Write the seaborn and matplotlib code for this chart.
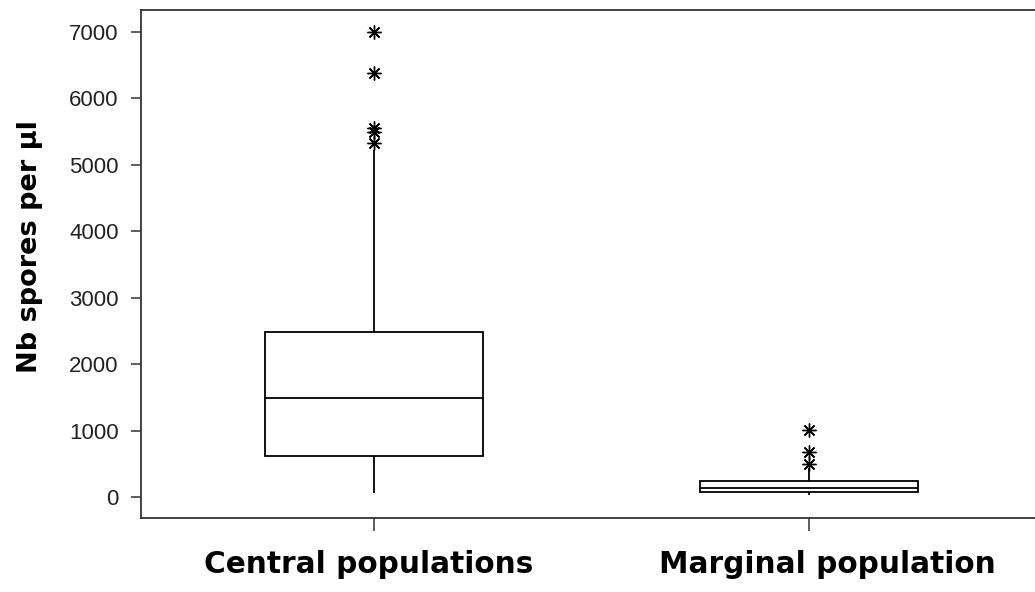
import numpy as np
import pandas as pd
import seaborn as sns
import matplotlib
matplotlib.use("Agg")
import matplotlib.pyplot as plt
from matplotlib.transforms import ScaledTranslation

# ---- data ----
categories = ["Central populations", "Marginal population"]

central_values = [60, 150, 260, 380, 470, 560, 617, 760, 900, 1050, 1200, 1350,
                  1490, 1650, 1800, 1980, 2150, 2320, 2484, 5220,
                  5330, 5495, 5555, 6383, 7000]
marginal_values = [30, 45, 55, 62, 70, 90, 105, 120, 135, 160, 185, 210, 235,
                   430, 490, 680, 1010]

yticks = [0, 1000, 2000, 3000, 4000, 5000, 6000, 7000]
ylabel = "Nb spores per µl"

df = pd.DataFrame({
    "group": [categories[0]] * len(central_values) + [categories[1]] * len(marginal_values),
    "value": central_values + marginal_values,
})

sns.set_theme(style="white")
plt.rcParams["font.family"] = ["DejaVu Sans"]

fig = plt.figure(figsize=(10.35, 5.92), dpi=100)
ax = fig.add_axes([141 / 1035, 1 - 518 / 592, 1 - 141 / 1035, (518 - 10) / 592])

lw = 1.3
sns.boxplot(data=df, x="group", y="value", order=categories, ax=ax,
            width=0.5, color="white", linecolor="black", linewidth=lw,
            whis=1.5, showcaps=False,
            flierprops=dict(marker=(8, 2, 0), markersize=10, markeredgecolor="black",
                            markerfacecolor="black", markeredgewidth=1.0))

ax.set_xlim(-0.5356, 1.5195)
ax.set_ylim(-316, 7331)
ax.set_yticks(yticks)
ax.set_yticklabels([str(v) for v in yticks], fontfamily="Liberation Sans",
                   fontsize=16, color="#222222")
ax.set_xticks([0, 1])
ax.set_xticklabels(categories, fontfamily="DejaVu Sans", fontweight="bold",
                   fontsize=21.3, color="black")
ax.set_xlabel("")
ax.set_ylabel(ylabel, fontfamily="DejaVu Sans", fontweight="bold", fontsize=19.5,
              color="black")
ax.yaxis.set_label_coords(-0.11, 0.535)

ax.tick_params(axis="y", which="major", left=True, length=7, width=1.1,
               color="#333333", pad=9, direction="out")
ax.tick_params(axis="x", which="major", bottom=True, length=9, width=1.1,
               color="#333333", pad=14, direction="out")

# small horizontal offsets of the category labels, as in the reference
for lab, dx_px in zip(ax.get_xticklabels(), [-5, 18]):
    lab.set_transform(lab.get_transform() +
                      ScaledTranslation(dx_px / 100, 0, fig.dpi_scale_trans))

for side in ["left", "top", "bottom"]:
    ax.spines[side].set_visible(True)
    ax.spines[side].set_color("#333333")
    ax.spines[side].set_linewidth(1.3)
ax.spines["right"].set_visible(False)
ax.grid(False)
ax.set_facecolor("white")
fig.patch.set_facecolor("white")

fig.savefig("out.png", dpi=100, facecolor="white")
